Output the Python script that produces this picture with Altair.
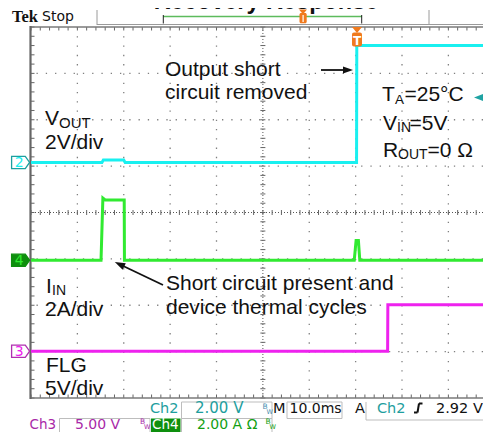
import altair as alt
import pandas as pd

# ---------------- values ----------------
# time in ms from the left edge of the display (10 ms/div)
vout_t = [0.0, 15.3, 15.6, 20.0, 20.3, 70.2, 70.25, 99.2]
vout_v = [0.0, 0.0, 0.1, 0.1, 0.0, 0.0, 5.04, 5.04]          # V (Ch2)
iin_t = [0.0, 15.1, 15.5, 16.0, 20.1, 20.15, 69.7, 70.1, 70.6, 70.9, 99.2]
iin_a = [0.0, 0.0, 2.68, 2.6, 2.6, 0.0, 0.0, 0.85, 0.85, 0.0, 0.0]  # A (Ch4)
flg_t = [0.0, 76.9, 76.95, 99.2]
flg_v = [0.0, 0.0, 5.0, 5.0]                                    # V (Ch3)

channels = ["Ch2", "Ch4", "Ch3"]
marker_labels = ["2", "4", "3"]
units_per_div = [2.0, 2.0, 5.0]
ground_div = [5.08, 2.97, 1.01]
trace_colors = ["#19F0F0", "#31EA31", "#EE22EE"]
marker_fill = ["#FFFFFF", "#0E8F0E", "#FFFFFF"]
marker_stroke = ["#1BA0A0", "#0E8F0E", "#B030B0"]
marker_text = ["#1BA0A0", "#FFFFFF", "#B030B0"]

grid_x = [10, 20, 30, 40, 60, 70, 80, 90]   # ms
grid_y = [1, 2, 3, 5, 6, 7]                  # div
center_x, center_y = 50, 4
time_per_div = 10.0
n_ydiv = 8

# ---------------- geometry ----------------
PX_PER_DIV = 46.375
PLOT_W, PLOT_H = 452, 371
OX, OY = 31, 27          # page position of plot's top-left corner
XMAX = PLOT_W / PX_PER_DIV * time_per_div
MINOR = PX_PER_DIV / 5
RIGHT = OX + PLOT_W      # visible right edge (page px)

xs = alt.Scale(domain=[0, XMAX], nice=False, zero=False)
ys = alt.Scale(domain=[0, n_ydiv], nice=False, zero=False)

rows = []
for ch, ts, vs in [("Ch2", vout_t, vout_v), ("Ch4", iin_t, iin_a), ("Ch3", flg_t, flg_v)]:
    k = channels.index(ch)
    for t, v in zip(ts, vs):
        rows.append({"ch": ch, "t": min(t, XMAX), "val": v,
                     "pos": ground_div[k] + v / units_per_div[k], "i": len(rows)})
traces = pd.DataFrame(rows)
markers = pd.DataFrame({"ch": channels, "label": marker_labels, "g": ground_div})

one = alt.Data(values=[{"a": 1}])


def P(x):
    return x - OX


def Q(y):
    return y - OY


def txt(s, x, y, size=21, color="#111111", font="Liberation Sans", weight="normal", align="left"):
    return alt.Chart(one).mark_text(
        text=s, fontSize=size, font=font, fontWeight=weight, color=color,
        align=align, baseline="alphabetic"
    ).encode(x=alt.value(P(x)), y=alt.value(Q(y)))


def seg(x1, y1, x2, y2, color, sw=1.0, dash=None):
    kw = dict(color=color, strokeWidth=sw)
    if dash:
        kw["strokeDash"] = dash
    return alt.Chart(one).mark_rule(**kw).encode(
        x=alt.value(P(x1)), x2=alt.value(P(x2)), y=alt.value(Q(y1)), y2=alt.value(Q(y2)))


def box(x1, y1, x2, y2, fill=None, stroke=None, sw=1.0, r=0):
    kw = dict(strokeWidth=sw, cornerRadius=r)
    kw["fill"] = fill if fill else "transparent"
    if stroke:
        kw["stroke"] = stroke
    return alt.Chart(one).mark_rect(**kw).encode(
        x=alt.value(P(x1)), x2=alt.value(P(x2)), y=alt.value(Q(y1)), y2=alt.value(Q(y2)))


def sym(x, y, shape, size, color, angle=0):
    kw = dict(shape=shape, size=size, filled=True, color=color, opacity=1)
    if angle:
        kw["angle"] = angle
    return alt.Chart(one).mark_point(**kw).encode(x=alt.value(P(x)), y=alt.value(Q(y)))


layers = []
GRID = "#808080"

# graticule dotted lines
layers.append(alt.Chart(pd.DataFrame({"v": grid_x})).mark_rule(
    color=GRID, strokeWidth=1.3, strokeDash=[1.3, MINOR - 1.3]).encode(
    x=alt.X("v:Q", scale=xs, axis=None)))
layers.append(alt.Chart(pd.DataFrame({"v": grid_y})).mark_rule(
    color=GRID, strokeWidth=1.3, strokeDash=[1.3, MINOR - 1.3]).encode(
    y=alt.Y("v:Q", scale=ys, axis=None)))
# centre cross lines
layers.append(alt.Chart(pd.DataFrame({"v": [center_x]})).mark_rule(
    color="#555555", strokeWidth=1, strokeDash=[1, 2]).encode(
    x=alt.X("v:Q", scale=xs, axis=None)))
layers.append(alt.Chart(pd.DataFrame({"v": [center_y]})).mark_rule(
    color="#555555", strokeWidth=1, strokeDash=[1, 2]).encode(
    y=alt.Y("v:Q", scale=ys, axis=None)))

cx = center_x / XMAX * PLOT_W
cy = PLOT_H - center_y / n_ydiv * PLOT_H
xseq = alt.sequence(0, XMAX, 2, as_="v")
yseq = alt.sequence(0, 8.01, 0.2, as_="v")
TICK = "#666666"
# minor ticks on frame and centre lines
layers.append(alt.Chart(xseq).mark_rule(color=TICK, strokeWidth=1).encode(
    x=alt.X("v:Q", scale=xs, axis=None), y=alt.value(0), y2=alt.value(3.5)))
layers.append(alt.Chart(xseq).mark_rule(color=TICK, strokeWidth=1).encode(
    x=alt.X("v:Q", scale=xs, axis=None), y=alt.value(PLOT_H - 3.5), y2=alt.value(PLOT_H)))
layers.append(alt.Chart(xseq).mark_rule(color=TICK, strokeWidth=1).encode(
    x=alt.X("v:Q", scale=xs, axis=None), y=alt.value(cy - 2.5), y2=alt.value(cy + 2.5)))
layers.append(alt.Chart(yseq).mark_rule(color=TICK, strokeWidth=1).encode(
    y=alt.Y("v:Q", scale=ys, axis=None), x=alt.value(0), x2=alt.value(3.5)))
layers.append(alt.Chart(yseq).mark_rule(color=TICK, strokeWidth=1).encode(
    y=alt.Y("v:Q", scale=ys, axis=None), x=alt.value(cx - 2.5), x2=alt.value(cx + 2.5)))

# frame
layers.append(seg(30, 27, RIGHT, 27, "#7A7A7A", 1.6))
layers.append(seg(30, 398, RIGHT, 398, "#7A7A7A", 1.6))
layers.append(seg(30.5, 26, 30.5, 399, "#666666", 2.2))

# traces
layers.append(alt.Chart(traces).mark_line(strokeWidth=3, interpolate="linear").encode(
    x=alt.X("t:Q", scale=xs, axis=None),
    y=alt.Y("pos:Q", scale=ys, axis=None),
    color=alt.Color("ch:N", scale=alt.Scale(domain=channels, range=trace_colors), legend=None),
    detail="ch:N",
    order="i:Q"))

# channel ground markers on the left
marker_path = "M-1,-0.68L0.52,-0.68L1,0L0.52,0.68L-1,0.68Z"
layers.append(alt.Chart(markers).mark_point(
    shape=marker_path, size=324, filled=True, strokeWidth=1.3, opacity=1).encode(
    x=alt.value(P(20.6)),
    y=alt.Y("g:Q", scale=ys, axis=None),
    fill=alt.Fill("ch:N", scale=alt.Scale(domain=channels, range=marker_fill), legend=None),
    stroke=alt.Stroke("ch:N", scale=alt.Scale(domain=channels, range=marker_stroke), legend=None)))
layers.append(alt.Chart(markers).mark_text(
    font="DejaVu Sans", fontSize=14, align="center", baseline="middle", dy=1).encode(
    x=alt.value(P(19.3)),
    y=alt.Y("g:Q", scale=ys, axis=None),
    text="label:N",
    color=alt.Color("ch:N", scale=alt.Scale(domain=channels, range=marker_text), legend=None)))

# trigger level arrow (right edge) and trigger position marker (top)
layers.append(sym(RIGHT - 4.5, 97.5, "M-1,0L1,-0.8L1,0.8Z", 81, "#1FA3A3"))
ORANGE = "#F07A1E"
layers.append(sym(357, 30, "M-1,-0.6L1,-0.6L0,0.6Z", 100, ORANGE))
layers.append(box(352, 32.5, 362, 46.5, fill=ORANGE, r=2))
layers.append(txt("T", 357, 44.5, 12, "#FFFFFF", "DejaVu Sans", "bold", "center"))

# annotations
A = 21
S = 14
layers += [
    txt("Output short", 165, 76, A),
    txt("circuit removed", 165, 98.5, A),
    seg(321, 70, 348, 70, "#111111", 1.8),
    sym(348, 70, "M1,0L-1,-0.7L-1,0.7Z", 100, "#111111"),
    txt("V", 45, 125, A), txt("OUT", 59, 127.5, S + 1),
    txt("2V/div", 45, 149, A),
    txt("T", 382, 101, A), txt("A", 395, 104, 13.5), txt("=25°C", 404.5, 101, A),
    txt("V", 383, 129.5, A), txt("IN", 397, 132, S), txt("=5V", 409.5, 129.5, A),
    txt("R", 383, 156.7, A), txt("OUT", 398, 159, S), txt("=0 Ω", 427.5, 156.7, A),
    txt("I", 46, 292.5, A), txt("IN", 52, 294.5, S),
    txt("2A/div", 45, 316, A),
    txt("Short circuit present and", 166, 290, A),
    txt("device thermal cycles", 166, 314, A),
    seg(163, 285, 119.5, 264.2, "#111111", 1.8),
    sym(119.5, 264.2, "M1,0L-1,-0.7L-1,0.7Z", 110, "#111111", 205.6),
    txt("FLG", 46, 372, A),
    txt("5V/div", 45, 395, A),
]

# header
HDR = "#9A9A9A"
layers += [
    txt("Recovery Response", 266, 8.5, 23.5, "#111111", "Liberation Sans", "bold", "center"),
    txt("Tek", 12, 22, 16.5, "#111111", "Liberation Serif", "bold"),
    txt("Stop", 42, 21, 14, "#111111", "DejaVu Sans"),
    seg(97, 10, 97, 25, HDR, 1),
    seg(429, 10, 429, 25, HDR, 1),
    seg(97, 24.5, RIGHT, 24.5, HDR, 1.2),
    seg(163, 16.5, 362, 16.5, "#5DBB5D", 1.6),
    seg(163.3, 15, 163.3, 23.5, "#222222", 1),
    seg(361.7, 15, 361.7, 23.5, "#222222", 1),
    sym(303, 11.5, "M-1,-0.5L1,-0.5L0,0.7Z", 64, ORANGE),
    box(299.5, 13, 306.7, 23.3, fill=ORANGE, r=1.5),
    seg(303.1, 15, 303.1, 22, "#FFFFFF", 1.2),
]

# footer / status bar
TEAL = "#1E9E9E"
MAG = "#A829A8"
GRN = "#12A012"
BOXC = "#BDBDBD"
F = "DejaVu Sans"
R1 = 413.0
R2 = 428.5
layers += [
    box(181.5, 402, 272, 418.5, stroke=BOXC),
    box(181.5, 418.5, 272, 434, stroke=BOXC),
    box(287, 402, 342, 418.5, stroke=BOXC),
    seg(366, 402, 366, 420, BOXC, 1),
    seg(366, 420, RIGHT, 420, BOXC, 1),
    box(59.5, 418.5, 150, 434, stroke=BOXC),
    box(151, 418.5, 180.5, 434, fill="#0E8F0E"),
    txt("Ch2", 150, R1, 14.5, TEAL, F),
    txt("2.00 V", 195, R1, 15, TEAL, F),
    txt("B", 262.5, 408.5, 7.5, "#4C8FB0", F), txt("W", 266.5, 413.5, 6.5, "#4C8FB0", F),
    txt("M", 273, R1, 14.5, "#111111", F),
    txt("10.0ms", 289.5, R1, 14, "#111111", F),
    txt("A", 355, R1, 14.5, "#111111", F),
    txt("Ch2", 377, R1, 14.5, TEAL, F),
    seg(414, 412.5, 417.5, 412.5, "#111111", 2),
    seg(417.5, 412.5, 419, 403.5, "#111111", 2),
    seg(419, 403.5, 422.5, 403.5, "#111111", 2),
    txt("2.92 V", 436, R1, 14.5, "#111111", F),
    txt("Ch3", 29.5, R2, 13.5, MAG, F),
    txt("5.00 V", 75, R2, 14, MAG, F),
    txt("B", 140, 424, 7.5, MAG, F), txt("W", 144, 428.5, 6.5, MAG, F),
    txt("Ch4", 152, R2, 13.5, "#FFFFFF", F),
    txt("2.00 A Ω", 197, R2, 14, GRN, F),
    txt("B", 265.5, 424, 7.5, GRN, F), txt("W", 269.5, 428.5, 6.5, GRN, F),
]

chart = alt.layer(*layers).properties(
    width=PLOT_W,
    height=PLOT_H,
    autosize=alt.AutoSizeParams(type="none"),
    padding={"left": 23, "top": 19, "right": 0, "bottom": 34},
    background="white",
).configure_view(strokeWidth=0)

chart.save("out.html", embed_options={"renderer": "svg", "actions": False})
